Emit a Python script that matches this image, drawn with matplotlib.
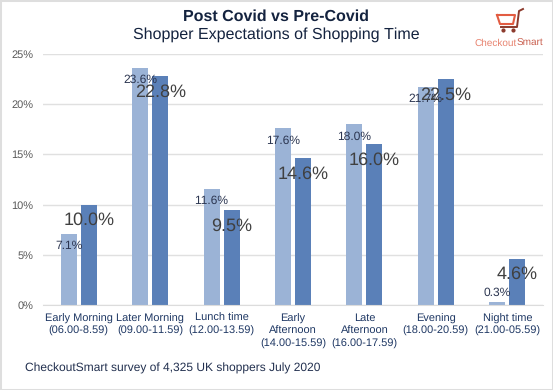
import matplotlib
matplotlib.use('Agg')
import matplotlib.pyplot as plt
from matplotlib.patches import Rectangle

plt.rcParams['font.family'] = ['Liberation Sans', 'DejaVu Sans']
plt.rcParams['text.hinting'] = 'none'
plt.rcParams['text.hinting_factor'] = 1

# 数据
categories = ['Early Morning\n(06.00-8.59)', 'Later Morning\n(09.00-11.59)', 'Lunch time\n(12.00-13.59)',
              'Early\nAfternoon\n(14.00-15.59)', 'Late\nAfternoon\n(16.00-17.59)',
              'Evening\n(18.00-20.59)', 'Night time\n(21.00-05.59)']
post_covid = [7.1, 23.6, 11.6, 17.6, 18.0, 21.7, 0.3]
pre_covid = [10.0, 22.8, 9.5, 14.6, 16.0, 22.5, 4.6]
y_ticks = [0, 5, 10, 15, 20, 25]

# 数值标签相对柱顶的偏移 (像素)
post_offsets = [-12, -12, -12, -12, -12, -12, 9]
pre_offsets = [-16, -16, -17, -16, -16, -16, -15]

LIGHT = '#9bb3d6'
DARK = '#5a80b8'
W, H = 553, 390

fig = plt.figure(figsize=(W / 100, H / 100), dpi=100, facecolor='white')
ax = fig.add_axes([43 / W, 1 - 305 / H, 500 / W, 251 / H])

x = range(len(categories))
ax.bar([i - 0.14 for i in x], post_covid, 0.224, color=LIGHT, zorder=2)
ax.bar([i + 0.14 for i in x], pre_covid, 0.224, color=DARK, zorder=2)

ax.set_xlim(-0.5, 6.5)
ax.set_ylim(0, 25)
ax.set_yticks(y_ticks)
ax.set_yticklabels([f'{v}%' for v in y_ticks], fontsize=8, color='#595959')
ax.set_xticks(list(x))
ax.set_xticklabels(categories, fontsize=7.9, color='#1f3864', linespacing=1.28)
ax.tick_params(length=0)
ax.tick_params(axis='y', pad=7.2)
ax.tick_params(axis='x', pad=6)
ax.grid(axis='y', color='#e0e0e0', lw=1)
ax.set_axisbelow(True)
for s in ['top', 'right', 'left']:
    ax.spines[s].set_visible(False)
ax.spines['bottom'].set_color('#dcdcdc')

for i in x:
    ax.annotate(f'{post_covid[i]:.1f}%', (i - 0.14, post_covid[i]), xytext=(0, post_offsets[i]),
                textcoords='offset pixels', ha='center', va='center', fontsize=8.4, color='#2b3550', zorder=5)
    ax.annotate(f'{pre_covid[i]:.1f}%', (i + 0.14, pre_covid[i]), xytext=(0, pre_offsets[i]),
                textcoords='offset pixels', ha='center', va='center', fontsize=12.9, color='#404040', zorder=5)

# 标题
fig.text(276 / W, 1 - 16.5 / H, 'Post Covid vs Pre-Covid', ha='center', va='center',
         fontsize=11.3, fontweight='bold', color='#14233f')
fig.text(276 / W, 1 - 34.5 / H, 'Shopper Expectations of Shopping Time', ha='center', va='center',
         fontsize=11.3, color='#14233f')
fig.text(25 / W, 1 - 368 / H, 'CheckoutSmart survey of 4,325 UK shoppers July 2020', ha='left', va='center',
         fontsize=8.6, color='#22304f')

# logo
fig.text(517 / W, 1 - 46 / H, 'Checkout', ha='right', va='baseline', fontsize=7.4, color='#e8836f')
fig.text(517 / W, 1 - 46 / H, 'Smart', ha='left', va='baseline', fontsize=7.4, color='#c9604f')
cart_x = [497, 515, 513, 500, 497]
cart_y = [15, 15, 24, 24, 15]
fig.add_artist(plt.Line2D([v / W for v in cart_x], [1 - v / H for v in cart_y], color='#e25c42', lw=1.5))
fig.add_artist(plt.Line2D([v / W for v in [501, 517, 519, 523]], [1 - v / H for v in [27, 27, 11, 9]],
                          color='#8c3a2c', lw=1.4))
for cx in [503, 513]:
    fig.add_artist(plt.Line2D([cx / W], [1 - 30 / H], marker='o', ms=2, color='#8c3a2c', lw=0))

# 外框
fig.add_artist(Rectangle((0, 0), 1, 1, transform=fig.transFigure, fill=False, ec='#dedede', lw=2.2))

fig.savefig('out.png', dpi=100)
